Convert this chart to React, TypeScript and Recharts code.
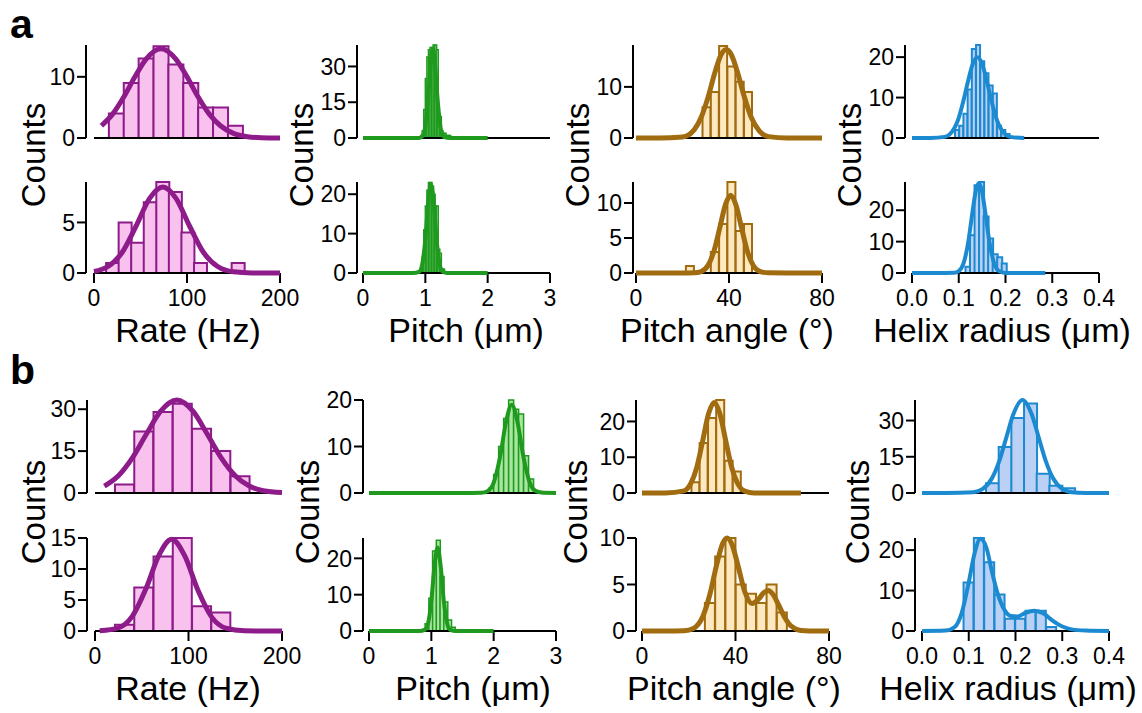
import React from 'react';
import { ComposedChart, LineChart, Bar, Line, XAxis, YAxis, ReferenceLine } from 'recharts';

// ---------- tick labels / titles ----------
const rateTicks = [0, 100, 200];
const pitchTicks = [0, 1, 2, 3];
const angleTicks = [0, 40, 80];
const radiusTicks = [0, 0.1, 0.2, 0.3, 0.4];
const xTitles = ['Rate (Hz)', 'Pitch (μm)', 'Pitch angle (°)', 'Helix radius (μm)'];
const yTitle = 'Counts';
const panelLetters = ['a', 'b'];

// ---------- panel a: rate ----------
const aRateTopBins = [24, 40, 56, 72, 88, 104, 120, 136, 152];
const aRateTopCounts = [4, 9, 13, 15, 12, 9, 5, 5, 2];
const aRateTopFitX = [8, 20, 32, 44, 56, 72, 88, 100, 112, 124, 136, 150, 165, 180, 200];
const aRateTopFitY = [2.0, 3.9, 6.7, 10.0, 12.9, 14.6, 12.9, 10.0, 6.7, 3.9, 2.0, 0.75, 0.21, 0.05, 0];

const aRateBotBins = [19.75, 33.25, 46.75, 60.25, 73.75, 87.25, 100.75, 114.25, 127.75, 141.25, 154.75];
const aRateBotCounts = [1, 5, 3, 7, 9, 8, 4, 1, 0, 0, 1];
const aRateBotFitX = [0, 15, 30, 45, 60, 74, 88, 103, 118, 133, 150, 170, 200];
const aRateBotFitY = [0.15, 0.64, 2.0, 4.6, 7.4, 8.5, 7.4, 4.6, 2.0, 0.64, 0.12, 0.01, 0];

// ---------- panel a: pitch ----------
const aPitchTopBins = [0.9375, 0.9625, 0.9875, 1.0125, 1.0375, 1.0625, 1.0875, 1.1125, 1.1375, 1.1625, 1.1875, 1.2125, 1.2375, 1.2625, 1.2875, 1.3125, 1.3375, 1.3625, 1.3875];
const aPitchTopCounts = [1, 3, 12, 25, 34, 37, 38, 38, 39, 39, 37, 10, 9, 3, 2, 2, 1, 1, 1];
const aPitchTopFitX = [0, 0.5, 0.8, 0.9, 0.95, 1.0, 1.05, 1.1, 1.12, 1.15, 1.2, 1.25, 1.3, 1.4, 1.6, 2.0];
const aPitchTopFitY = [0, 0, 0, 0.05, 0.7, 5.0, 18.7, 35, 37, 32.6, 15.2, 3.5, 0.41, 0, 0, 0];

const aPitchBotBins = [0.9375, 0.9625, 0.9875, 1.0125, 1.0375, 1.0625, 1.0875, 1.1125, 1.1375, 1.1625, 1.1875, 1.2125, 1.2375, 1.2625, 1.2875];
const aPitchBotCounts = [1, 4, 11, 17, 21, 23, 23, 22, 20, 17, 17, 6, 5, 1, 1];
const aPitchBotFitX = [0, 0.5, 0.8, 0.9, 0.95, 1.0, 1.05, 1.09, 1.13, 1.18, 1.23, 1.28, 1.35, 1.5, 2.0];
const aPitchBotFitY = [0, 0, 0, 0.31, 2.2, 8.6, 18.6, 22.5, 18.6, 8.6, 2.2, 0.31, 0.01, 0, 0];

// ---------- panel a: pitch angle ----------
const aAngleTopBins = [30.39, 33.96, 37.53, 41.1, 44.67, 48.24];
const aAngleTopCounts = [6, 9, 18, 14, 11, 9];
const aAngleTopFitX = [0, 10, 20, 25, 28, 31, 34, 36.5, 38.8, 41, 43.5, 46.5, 49.5, 53, 57, 65, 80];
const aAngleTopFitY = [0, 0, 0.2, 1.6, 4.0, 8.0, 12.9, 16.2, 17.3, 16.3, 13.1, 8.2, 4.1, 1.4, 0.27, 0, 0];

const aAngleBotBins = [23.25, 26.82, 30.39, 33.96, 37.53, 41.1, 44.67, 48.24];
const aAngleBotCounts = [1, 0, 0, 3, 7, 13, 6, 7];
const aAngleBotFitX = [0, 10, 20, 25, 28, 31, 33.5, 36, 38.5, 40.7, 43, 45.5, 48, 50.5, 53, 57, 65, 80];
const aAngleBotFitY = [0, 0, 0, 0.03, 0.21, 1.09, 3.1, 6.4, 9.8, 11.1, 9.7, 6.3, 3.0, 1.04, 0.27, 0.02, 0, 0];

// ---------- panel a: helix radius ----------
const aRadiusTopBins = [0.0965, 0.1055, 0.1145, 0.1235, 0.1325, 0.1415, 0.1505, 0.1595, 0.1685, 0.1775, 0.1865, 0.1955, 0.2045];
const aRadiusTopCounts = [2, 3, 6, 12, 22, 23, 19, 16, 13, 11, 3, 2, 1];
const aRadiusTopFitX = [0, 0.04, 0.07, 0.085, 0.1, 0.11, 0.12, 0.13, 0.14, 0.15, 0.16, 0.17, 0.18, 0.195, 0.21, 0.24];
const aRadiusTopFitY = [0, 0, 0.28, 1.44, 5.0, 9.2, 14.1, 18.3, 20, 18.3, 14.1, 9.2, 5.0, 1.44, 0.28, 0];

const aRadiusBotBins = [0.1192, 0.1289, 0.1386, 0.1483, 0.158, 0.1677, 0.1774, 0.1871, 0.1968];
const aRadiusBotCounts = [2, 12, 28, 29, 18, 11, 6, 5, 3];
const aRadiusBotFitX = [0, 0.05, 0.09, 0.1, 0.11, 0.12, 0.13, 0.137, 0.143, 0.149, 0.156, 0.166, 0.176, 0.186, 0.2, 0.22, 0.285];
const aRadiusBotFitY = [0, 0, 0.08, 0.61, 2.97, 9.5, 20.1, 26.5, 28.6, 26.5, 20.1, 9.5, 2.97, 0.61, 0.03, 0, 0];

// ---------- panel b: rate ----------
const bRateTopBins = [31.7, 52.3, 72.9, 93.5, 114.1, 134.7, 155.3];
const bRateTopCounts = [3, 22, 29, 32, 23, 15, 6];
const bRateTopFitX = [10, 25, 40, 55, 70, 87.5, 105, 120, 135, 150, 165, 180, 200];
const bRateTopFitY = [2.5, 6.2, 12.6, 21.1, 29.2, 33.3, 29.2, 21.1, 12.6, 6.2, 2.5, 0.8, 0.14];

const bRateBotBins = [31.7, 52.3, 72.9, 93.5, 114.1, 134.7];
const bRateBotCounts = [1, 7, 12, 15, 4, 3];
const bRateBotFitX = [5, 25, 40, 55, 68, 82, 96, 110, 125, 140, 160, 180, 200];
const bRateBotFitY = [0.03, 0.51, 2.4, 7.0, 12.1, 14.8, 12.1, 6.6, 2.2, 0.46, 0.03, 0, 0];

// ---------- panel b: pitch ----------
const bPitchTopBins = [1.96, 2.04, 2.12, 2.2, 2.28, 2.36, 2.44, 2.52, 2.6];
const bPitchTopCounts = [1, 4, 10, 16, 20, 18, 17, 8, 3];
const bPitchTopFitX = [0, 0.5, 1.0, 1.5, 1.8, 1.9, 2.0, 2.1, 2.2, 2.29, 2.38, 2.48, 2.58, 2.68, 2.8, 3.0];
const bPitchTopFitY = [0, 0, 0, 0, 0.04, 0.39, 2.2, 7.6, 15.4, 19, 15.4, 7.6, 2.2, 0.39, 0.03, 0];

const bPitchBotBins = [0.93, 0.99, 1.05, 1.11, 1.17, 1.23, 1.29, 1.35];
const bPitchBotCounts = [2, 9, 22, 25, 15, 8, 3, 1];
const bPitchBotFitX = [0, 0.5, 0.8, 0.9, 0.95, 1.0, 1.05, 1.1, 1.15, 1.2, 1.25, 1.3, 1.4, 1.6, 2.0];
const bPitchBotFitY = [0, 0, 0, 0.39, 2.3, 8.3, 17.8, 23, 17.8, 8.3, 2.3, 0.39, 0, 0, 0];

// ---------- panel b: pitch angle ----------
const bAngleTopBins = [22.9, 26.4, 30.0, 33.5, 37.1, 40.6];
const bAngleTopCounts = [3, 14, 21, 26, 9, 6];
const bAngleTopFitX = [0, 10, 18, 21, 23.5, 26, 28.5, 30.9, 33.3, 35.8, 38.3, 40.8, 44, 48, 55, 68];
const bAngleTopFitY = [0, 0, 0.58, 2.8, 7.3, 14.7, 22.2, 25.3, 22.2, 14.7, 7.3, 2.8, 0.52, 0.03, 0, 0];

const bAngleBotBins = [29.1, 33.5, 37.9, 42.3, 46.7, 51.1, 55.5, 59.9];
const bAngleBotCounts = [3, 8, 10, 5, 4, 3, 5, 2];
const bAngleBotFitX = [0, 10, 18, 22, 26, 29, 32, 34.5, 36.4, 38.5, 41, 44, 47, 50, 52, 54, 56, 58.5, 61, 64, 68, 75, 80];
const bAngleBotFitY = [0, 0, 0.03, 0.28, 1.56, 3.9, 7.2, 9.4, 10.0, 9.3, 7.1, 4.2, 2.95, 3.46, 4.1, 4.35, 3.95, 2.77, 1.49, 0.49, 0.06, 0, 0];

// ---------- panel b: helix radius ----------
const bRadiusTopBins = [0.1505, 0.1776, 0.2047, 0.2318, 0.2589, 0.286, 0.3131];
const bRadiusTopCounts = [4, 19, 31, 37, 8, 3, 2];
const bRadiusTopFitX = [0, 0.05, 0.11, 0.13, 0.15, 0.165, 0.18, 0.195, 0.215, 0.235, 0.25, 0.265, 0.28, 0.3, 0.32, 0.35, 0.4];
const bRadiusTopFitY = [0, 0, 0.33, 1.7, 6.2, 13.1, 22.7, 32.4, 38.5, 32.4, 22.7, 13.1, 6.2, 1.7, 0.33, 0.03, 0];

const bRadiusBotBins = [0.0999, 0.122, 0.1441, 0.1662, 0.1883, 0.2104, 0.2325, 0.2546, 0.2767];
const bRadiusBotCounts = [12, 23, 17, 9, 3, 3, 5, 5, 1];
const bRadiusBotFitX = [0, 0.05, 0.07, 0.085, 0.1, 0.112, 0.125, 0.138, 0.15, 0.162, 0.175, 0.19, 0.205, 0.22, 0.24, 0.26, 0.28, 0.3, 0.32, 0.35, 0.4];
const bRadiusBotFitY = [0, 0.1, 1.0, 4.5, 12, 19, 22.8, 20.5, 14.5, 9.2, 5.5, 3.7, 3.6, 4.4, 5.0, 4.3, 2.5, 1.1, 0.4, 0.1, 0];

// ---------- styling / layout ----------
const FONT = '"Liberation Sans", Arial, Helvetica, sans-serif';

const columnStyles = [
  { stroke: '#8E1B8A', fill: '#F9C2EE', line: 5, barStroke: 2, ticks: rateTicks, fmt: (v: number) => String(v) },
  { stroke: '#1F9A1F', fill: '#A8E6A0', line: 4, barStroke: 1.5, ticks: pitchTicks, fmt: (v: number) => String(v) },
  { stroke: '#A06C0F', fill: '#FDE8BF', line: 5, barStroke: 2, ticks: angleTicks, fmt: (v: number) => String(v) },
  { stroke: '#1C8AD0', fill: '#BBD0F5', line: 4, barStroke: 2, ticks: radiusTicks, fmt: (v: number) => v.toFixed(1) },
];

const colsA = [
  { axis: 86, zero: 94, end: 280 },
  { axis: 357, zero: 363, end: 550 },
  { axis: 633, zero: 636, end: 822 },
  { axis: 905, zero: 912, end: 1099 },
];
const colsB = [
  { axis: 87, zero: 95, end: 282 },
  { axis: 363, zero: 369, end: 556 },
  { axis: 636, zero: 642, end: 829 },
  { axis: 915, zero: 922, end: 1109 },
];
const rows = [
  { top: 45, bottom: 138 },
  { top: 182, bottom: 273 },
  { top: 400, bottom: 493 },
  { top: 538, bottom: 631 },
];

type PanelDef = {
  row: number; col: number;
  bins: number[]; counts: number[]; fitX: number[]; fitY: number[];
  yMax: number; yTicks: number[];
};

const panels: PanelDef[] = [
  { row: 0, col: 0, bins: aRateTopBins, counts: aRateTopCounts, fitX: aRateTopFitX, fitY: aRateTopFitY, yMax: 15.2, yTicks: [0, 10] },
  { row: 1, col: 0, bins: aRateBotBins, counts: aRateBotCounts, fitX: aRateBotFitX, fitY: aRateBotFitY, yMax: 9, yTicks: [0, 5] },
  { row: 0, col: 1, bins: aPitchTopBins, counts: aPitchTopCounts, fitX: aPitchTopFitX, fitY: aPitchTopFitY, yMax: 39, yTicks: [0, 15, 30] },
  { row: 1, col: 1, bins: aPitchBotBins, counts: aPitchBotCounts, fitX: aPitchBotFitX, fitY: aPitchBotFitY, yMax: 23.1, yTicks: [0, 10, 20] },
  { row: 0, col: 2, bins: aAngleTopBins, counts: aAngleTopCounts, fitX: aAngleTopFitX, fitY: aAngleTopFitY, yMax: 18.2, yTicks: [0, 10] },
  { row: 1, col: 2, bins: aAngleBotBins, counts: aAngleBotCounts, fitX: aAngleBotFitX, fitY: aAngleBotFitY, yMax: 13, yTicks: [0, 5, 10] },
  { row: 0, col: 3, bins: aRadiusTopBins, counts: aRadiusTopCounts, fitX: aRadiusTopFitX, fitY: aRadiusTopFitY, yMax: 23, yTicks: [0, 10, 20] },
  { row: 1, col: 3, bins: aRadiusBotBins, counts: aRadiusBotCounts, fitX: aRadiusBotFitX, fitY: aRadiusBotFitY, yMax: 29, yTicks: [0, 10, 20] },
  { row: 2, col: 0, bins: bRateTopBins, counts: bRateTopCounts, fitX: bRateTopFitX, fitY: bRateTopFitY, yMax: 33.3, yTicks: [0, 15, 30] },
  { row: 3, col: 0, bins: bRateBotBins, counts: bRateBotCounts, fitX: bRateBotFitX, fitY: bRateBotFitY, yMax: 15, yTicks: [0, 5, 10, 15] },
  { row: 2, col: 1, bins: bPitchTopBins, counts: bPitchTopCounts, fitX: bPitchTopFitX, fitY: bPitchTopFitY, yMax: 20, yTicks: [0, 10, 20] },
  { row: 3, col: 1, bins: bPitchBotBins, counts: bPitchBotCounts, fitX: bPitchBotFitX, fitY: bPitchBotFitY, yMax: 25.6, yTicks: [0, 10, 20] },
  { row: 2, col: 2, bins: bAngleTopBins, counts: bAngleTopCounts, fitX: bAngleTopFitX, fitY: bAngleTopFitY, yMax: 26, yTicks: [0, 10, 20] },
  { row: 3, col: 2, bins: bAngleBotBins, counts: bAngleBotCounts, fitX: bAngleBotFitX, fitY: bAngleBotFitY, yMax: 10, yTicks: [0, 5, 10] },
  { row: 2, col: 3, bins: bRadiusTopBins, counts: bRadiusTopCounts, fitX: bRadiusTopFitX, fitY: bRadiusTopFitY, yMax: 38.5, yTicks: [0, 15, 30] },
  { row: 3, col: 3, bins: bRadiusBotBins, counts: bRadiusBotCounts, fitX: bRadiusBotFitX, fitY: bRadiusBotFitY, yMax: 23, yTicks: [0, 10, 20] },
];

// plot area offsets inside each chart box: left = margin 2 + y-axis 50, bottom = margin 4 + x-axis 40
const M = { top: 18, right: 30, bottom: 4, left: 2 };
const Y_W = 50;
const X_H = 40;

function Panel({ p }: { p: PanelDef }) {
  const cl = p.row < 2 ? colsA[p.col] : colsB[p.col];
  const rl = rows[p.row];
  const cs = columnStyles[p.col];
  const width = cl.end - cl.axis + M.left + Y_W + M.right;
  const height = rl.bottom - rl.top + M.top + M.bottom + X_H;
  const xMax = cs.ticks[cs.ticks.length - 1];
  const xDomain: [number, number] = [0, xMax];
  const pad = { left: cl.zero - cl.axis, right: 0 };
  const showLabels = p.row === 1 || p.row === 3;
  const barData = p.bins.map((x, i) => ({ x, count: p.counts[i] }));
  const lineData = p.fitX.map((x, i) => ({ x, fit: p.fitY[i] }));
  const tickStyle = { fill: '#000', fontSize: 23, fontFamily: FONT };
  const layer: React.CSSProperties = { position: 'absolute', left: 0, top: 0 };
  return (
    <div style={{ position: 'absolute', left: cl.axis - M.left - Y_W, top: rl.top - M.top, width, height }}>
      <div style={layer}>
        <ComposedChart width={width} height={height} data={barData} margin={M} barCategoryGap={0} barGap={0}>
          <XAxis
            type="number"
            dataKey="x"
            domain={xDomain}
            ticks={cs.ticks}
            interval={0}
            padding={pad}
            height={X_H}
            axisLine={false}
            tickLine={{ stroke: '#000', strokeWidth: 2 }}
            tickSize={10}
            tickMargin={7}
            tick={showLabels ? tickStyle : false}
            tickFormatter={cs.fmt}
          />
          <YAxis
            type="number"
            domain={[0, p.yMax]}
            ticks={p.yTicks}
            interval={0}
            width={Y_W}
            axisLine={{ stroke: '#000', strokeWidth: 2 }}
            tickLine={{ stroke: '#000', strokeWidth: 2 }}
            tickSize={9}
            tickMargin={2}
            tick={tickStyle}
          />
          <ReferenceLine segment={[{ x: 0, y: 0 }, { x: xMax, y: 0 }]} stroke="#000" strokeWidth={2} />
          <Bar dataKey="count" fill={cs.fill} stroke={cs.stroke} strokeWidth={cs.barStroke} isAnimationActive={false} />
        </ComposedChart>
      </div>
      <div style={layer}>
        <LineChart width={width} height={height} data={lineData} margin={M}>
          <XAxis type="number" dataKey="x" domain={xDomain} padding={pad} height={X_H} tick={false} axisLine={false} tickLine={false} />
          <YAxis type="number" domain={[0, p.yMax]} width={Y_W} tick={false} axisLine={false} tickLine={false} />
          <Line type="monotone" dataKey="fit" stroke={cs.stroke} strokeWidth={cs.line} dot={false} isAnimationActive={false} />
        </LineChart>
      </div>
    </div>
  );
}

const titleCentersA = [188, 466, 727, 1002];
const titleCentersB = [188, 473, 734, 1008];
const countsXA = [45, 313, 589, 861];
const countsXB = [45, 319, 587, 869];

export default function App() {
  return (
    <div style={{ position: 'absolute', left: 0, top: 0, width: 1142, height: 713, background: '#fff', fontFamily: FONT }}>
      <svg width={1142} height={713} style={{ position: 'absolute', left: 0, top: 0 }}>
        <text x={10} y={38} fontSize={41} fontWeight="bold" fontFamily={FONT} fill="#000">{panelLetters[0]}</text>
        <text x={10} y={384} fontSize={41} fontWeight="bold" fontFamily={FONT} fill="#000">{panelLetters[1]}</text>
        {xTitles.map((t, i) => (
          <text key={'ta' + i} x={titleCentersA[i]} y={342} fontSize={34} textAnchor="middle" fontFamily={FONT} fill="#000">{t}</text>
        ))}
        {xTitles.map((t, i) => (
          <text key={'tb' + i} x={titleCentersB[i]} y={700} fontSize={34} textAnchor="middle" fontFamily={FONT} fill="#000">{t}</text>
        ))}
        {countsXA.map((x, i) => (
          <text key={'ca' + i} x={x} y={155} fontSize={33} textAnchor="middle" fontFamily={FONT} fill="#000" transform={`rotate(-90 ${x} 155)`}>{yTitle}</text>
        ))}
        {countsXB.map((x, i) => (
          <text key={'cb' + i} x={x} y={512} fontSize={33} textAnchor="middle" fontFamily={FONT} fill="#000" transform={`rotate(-90 ${x} 512)`}>{yTitle}</text>
        ))}
      </svg>
      {panels.map((p, i) => (
        <Panel key={i} p={p} />
      ))}
    </div>
  );
}
